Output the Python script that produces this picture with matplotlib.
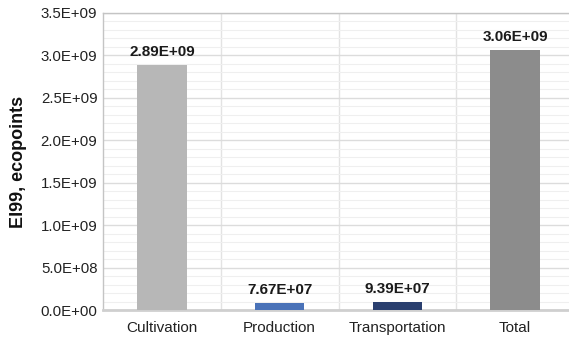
import matplotlib.pyplot as plt
import matplotlib.ticker as ticker

plt.rcParams['font.family'] = ['Liberation Sans', 'DejaVu Sans']

stages = ["Cultivation", "Production", "Transportation", "Total"]
ecopoints = [2.89e9, 7.67e7, 9.39e7, 3.06e9]
bar_colors = ["#b7b7b7", "#4a72b8", "#2a3f6f", "#8c8c8c"]

fig = plt.figure(figsize=(5.69, 3.38), dpi=100)
ax = fig.add_axes([103 / 569, 28 / 338, 471 / 569, 297 / 338])

x = range(len(stages))
ax.bar(x, ecopoints, width=0.42, color=bar_colors, zorder=3)

for i, v in enumerate(ecopoints):
    ax.annotate("%.2E" % v, (i, v), xytext=(0, 4.5), textcoords="offset points",
                ha="center", va="bottom", fontsize=11, fontweight="bold",
                color="#1a1a1a", zorder=4)

ax.set_xlim(-0.5, 3.5)
ax.set_ylim(0, 3.5e9)
ax.set_xticks(list(x))
ax.set_xticklabels(stages, fontsize=11, color="#222222")

ax.yaxis.set_major_locator(ticker.MultipleLocator(5e8))
ax.yaxis.set_minor_locator(ticker.MultipleLocator(1e8))
ax.yaxis.set_major_formatter(ticker.FuncFormatter(lambda v, pos: "%.1E" % v))
ax.tick_params(axis="y", labelsize=10.8, labelcolor="#222222", length=0, pad=4)
ax.tick_params(axis="x", length=0, pad=8)
ax.tick_params(which="minor", length=0)

# category separators
ax.xaxis.set_minor_locator(ticker.FixedLocator([0.5, 1.5, 2.5]))
ax.grid(which="minor", axis="x", color="#e3e3e3", linewidth=1.0, zorder=0)
ax.grid(which="major", axis="y", color="#dcdcdc", linewidth=1.0, zorder=1)
ax.grid(which="minor", axis="y", color="#efefef", linewidth=0.8, zorder=0)

for side in ["top", "left"]:
    ax.spines[side].set_color("#c4c4c4")
    ax.spines[side].set_linewidth(1.0)
ax.spines["bottom"].set_color("#cfcfcf")
ax.spines["bottom"].set_linewidth(2.0)
ax.spines["right"].set_visible(False)

ax.set_ylabel("EI99, ecopoints", fontsize=13, fontweight="bold", color="#111111", labelpad=10)

fig.savefig("out.png", dpi=100)
